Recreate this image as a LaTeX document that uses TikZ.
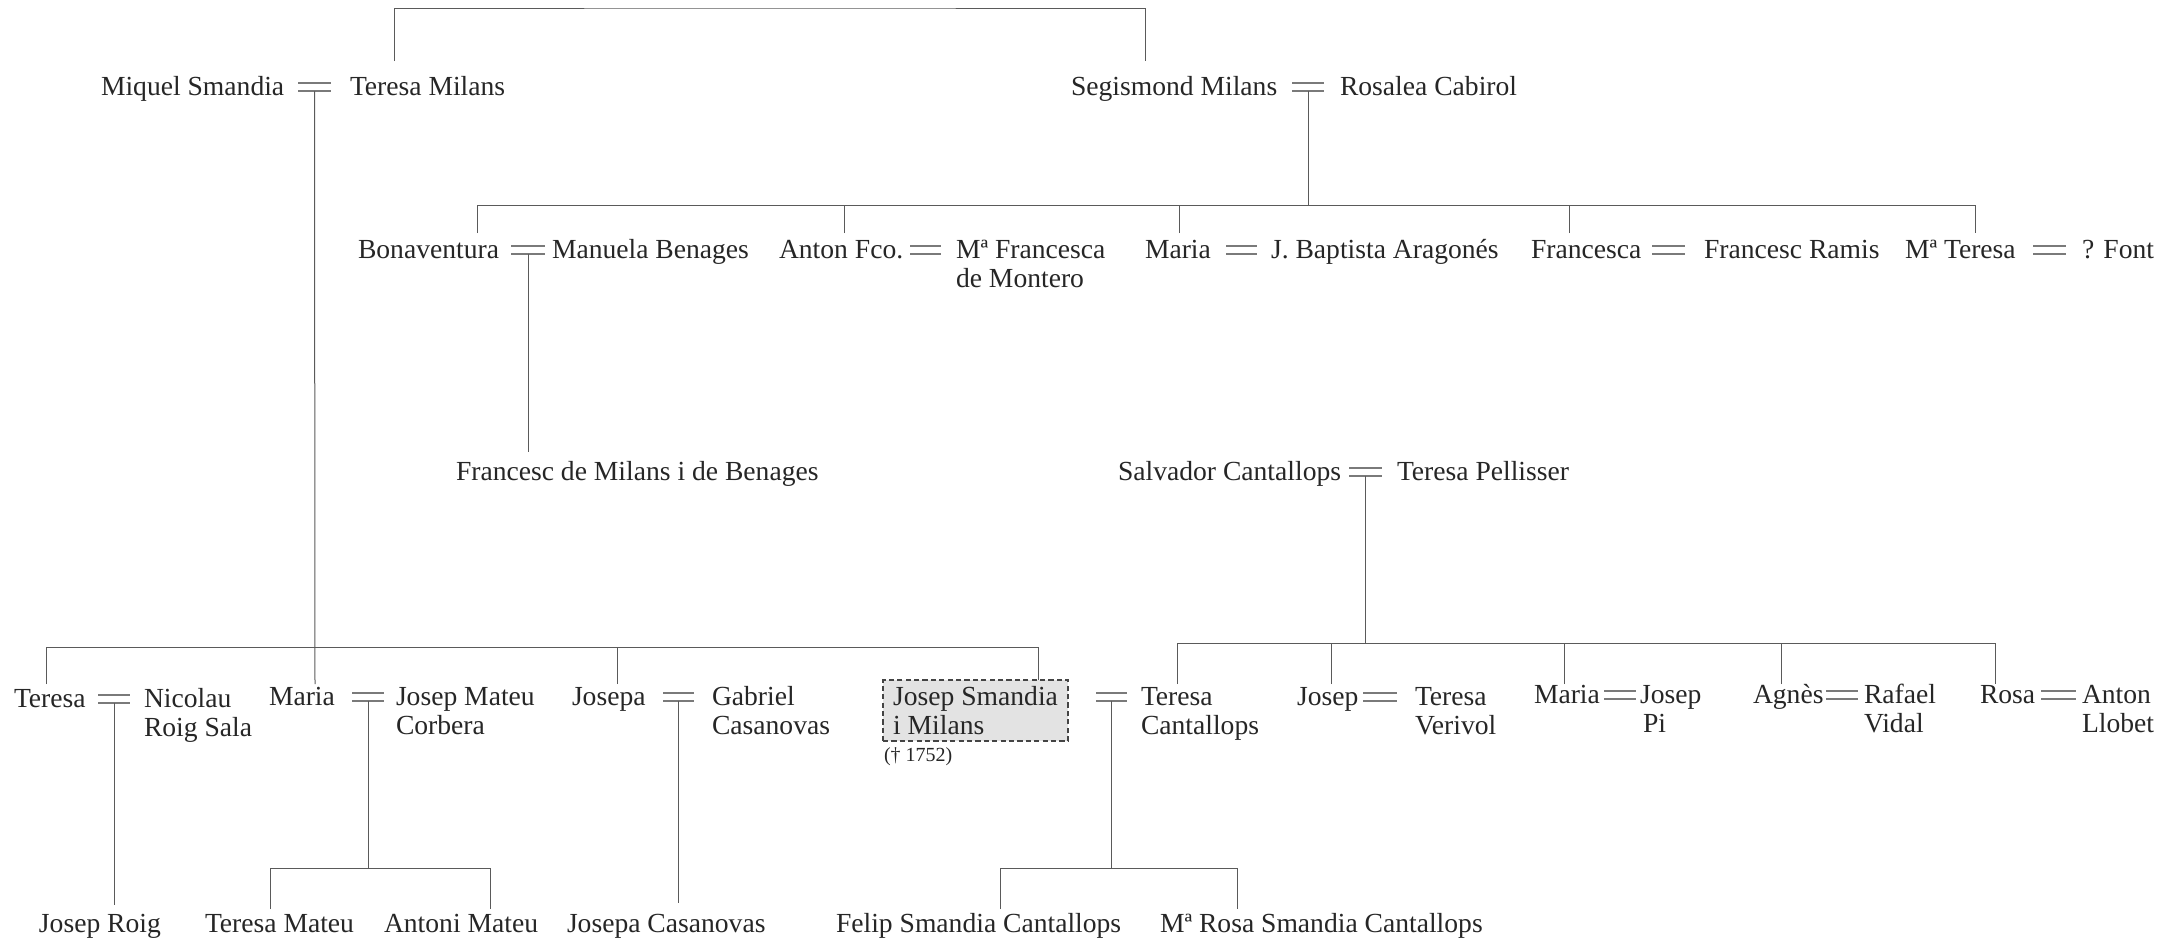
\documentclass[tikz,border=0pt]{standalone}
\usepackage{fontspec}
\setmainfont{Liberation Serif}
\definecolor{txt}{HTML}{262626}
\definecolor{lin}{HTML}{5A5A5A}
\definecolor{eqc}{HTML}{7A7A7A}
\definecolor{boxf}{HTML}{E3E3E3}
\definecolor{boxd}{HTML}{444444}
\newcommand\mrg[4]{%
  \draw[eqln] (#2,#4-12.5) -- (#3,#4-12.5) (#2,#4-4) -- (#3,#4-4);
  \coordinate (#1) at ({(#2+#3)/2},#4-4);}
\begin{document}
\begin{tikzpicture}[x=0.5pt,y=-0.5pt,
  every node/.style={inner sep=0pt, outer sep=0pt, anchor=base west,
    font=\fontsize{13.8}{14.5}\selectfont, text=txt, align=left},
  two/.style={yshift=-14.5pt},
  ln/.style={draw=lin, line width=0.5pt},
  eqln/.style={draw=eqc, line width=1pt},
  deadbox/.style={draw=boxd, dash pattern=on 2.6pt off 1.6pt, line width=0.55pt,
    fill=boxf, anchor=north west, inner xsep=4.5pt,
    inner ysep=0pt, minimum width=92.5pt, minimum height=30.5pt},
  note/.style={font=\fontsize{10}{12}\selectfont}]
\useasboundingbox (0,0) rectangle (2180,944);

% ---------- generation 1
\node (miquel) at (101,95) {Miquel Smandia};
\mrg{m1}{298}{331}{95}
\node (teresaM) at (350,95) {Teresa Milans};
\node (segis) at (1071,95) {Segismond Milans};
\mrg{m2}{1292}{1324}{95}
\node (rosalea) at (1340,95) {Rosalea Cabirol};

\coordinate (tA) at (394,61);
\coordinate (tB) at (1145,61);
\coordinate (tbar) at (770,8);
\draw[ln] (tA) |- (tbar) -| (tB);

% ---------- generation 2 (children of Segismond)
\node (bona) at (358,258) {Bonaventura};
\mrg{m3}{511}{545}{258}
\node (manuela) at (552,258) {Manuela Benages};
\node (anton) at (779,258) {Anton Fco.};
\mrg{m4}{910}{941}{258}
\node[two] (mfran) at (956,258) {Mª Francesca\\de Montero};
\node (maria1) at (1145,258) {Maria};
\mrg{m5}{1226}{1257}{258}
\node (jbap) at (1271,258) {J. Baptista Aragonés};
\node (fran) at (1531,258) {Francesca};
\mrg{m6}{1652}{1685}{258}
\node (framis) at (1704,258) {Francesc Ramis};
\node (mter) at (1905,258) {Mª Teresa};
\mrg{m7}{2033}{2066}{258}
\node (font) at (2082,258) {? Font};

\coordinate (b2) at (1308,205);
\foreach \n/\x in {c21/477,c22/844,c23/1179,c24/1569,c25/1975}
  \coordinate (\n) at (\x,233);
\draw[ln] (m2) -- (m2 |- b2);
\draw[ln] (c21) -- (c21 |- b2) -- (c25 |- b2) -- (c25);
\foreach \n in {c22,c23,c24} \draw[ln] (\n) -- (\n |- b2);

% ---------- generation 3
\node (francesc) at (456,480) {Francesc de Milans i de Benages};
\coordinate (cF) at (528,452);
\draw[ln] (m3) -- (m3 |- cF);

\node (salv) at (1118,480) {Salvador Cantallops};
\mrg{m8}{1349}{1382}{480}
\node (tpel) at (1397,480) {Teresa Pellisser};

% ---------- generation 4 (children of Miquel)
\node (teresa2) at (14,707) {Teresa};
\mrg{m9}{98}{130}{707}
\node[two] (nicolau) at (144,707) {Nicolau\\Roig Sala};
\node (maria2) at (269,705) {Maria};
\mrg{m10}{352}{384}{705}
\node[two] (jmateu) at (396,705) {Josep Mateu\\Corbera};
\node (josepa) at (572,705) {Josepa};
\mrg{m11}{663}{694}{705}
\node[two] (gabriel) at (712,705) {Gabriel\\Casanovas};
\node[deadbox] (josepS) at (883,680) {Josep Smandia\\i Milans};
\node[note] (death) at (884,761) {(† 1752)};
\mrg{m12}{1096}{1127}{705}
\node[two] (tcant) at (1141,705) {Teresa\\Cantallops};

\coordinate (b4) at (500,647);
\foreach \n/\x in {c41/46,c42/315,c43/617}
  \coordinate (\n) at (\x,684);
\coordinate (c44) at (1038,680);
\draw[ln] (m1) -- (c42);
\draw[ln] (c41) -- (c41 |- b4) -- (c44 |- b4) -- (c44);
\draw[ln] (c43) -- (c43 |- b4);

% ---------- generation 4 (children of Salvador)
\node (josep3) at (1297,705) {Josep};
\mrg{m13}{1363}{1397}{705}
\node[two] (tveri) at (1415,705) {Teresa\\Verivol};
\node (maria3) at (1534,703) {Maria};
\mrg{m14}{1604}{1636}{703}
\node[two] (jpi) at (1640,703) {Josep\\\hspace{1.5pt}Pi};
\node (agnes) at (1753,703) {Agnès};
\mrg{m15}{1826}{1858}{703}
\node[two] (rafael) at (1864,703) {Rafael\\Vidal};
\node (rosa) at (1980,703) {Rosa};
\mrg{m16}{2041}{2076}{703}
\node[two] (anton2) at (2082,703) {Anton\\Llobet};

\coordinate (b5) at (1365,643);
\foreach \n/\x in {c51/1177,c52/1331,c53/1564,c54/1781,c55/1995}
  \coordinate (\n) at (\x,684);
\draw[ln] (m8) -- (m8 |- b5);
\draw[ln] (c51) -- (c51 |- b5) -- (c55 |- b5) -- (c55);
\foreach \n in {c52,c53,c54} \draw[ln] (\n) -- (\n |- b5);

% ---------- generation 5
\node (jroig) at (39,932) {Josep Roig};
\node (tmateu) at (205,932) {Teresa Mateu};
\node (amateu) at (384,932) {Antoni Mateu};
\node (jcasa) at (567,932) {Josepa Casanovas};
\node (felip) at (836,932) {Felip Smandia Cantallops};
\node (mrosa) at (1160,932) {Mª Rosa Smandia Cantallops};

\coordinate (c61) at (114,905);
\draw[ln] (m9) -- (c61);
\coordinate (b6) at (380,868);
\coordinate (c62) at (270,909);
\coordinate (c63) at (490,909);
\draw[ln] (m10) -- (m10 |- b6);
\draw[ln] (c62) -- (c62 |- b6) -- (c63 |- b6) -- (c63);
\coordinate (c64) at (678.5,903);
\draw[ln] (m11) -- (c64);
\coordinate (b7) at (1110,868);
\coordinate (c65) at (1000,909);
\coordinate (c66) at (1237,909);
\draw[ln] (m12) -- (m12 |- b7);
\draw[ln] (c65) -- (c65 |- b7) -- (c66 |- b7) -- (c66);
\end{tikzpicture}
\end{document}
